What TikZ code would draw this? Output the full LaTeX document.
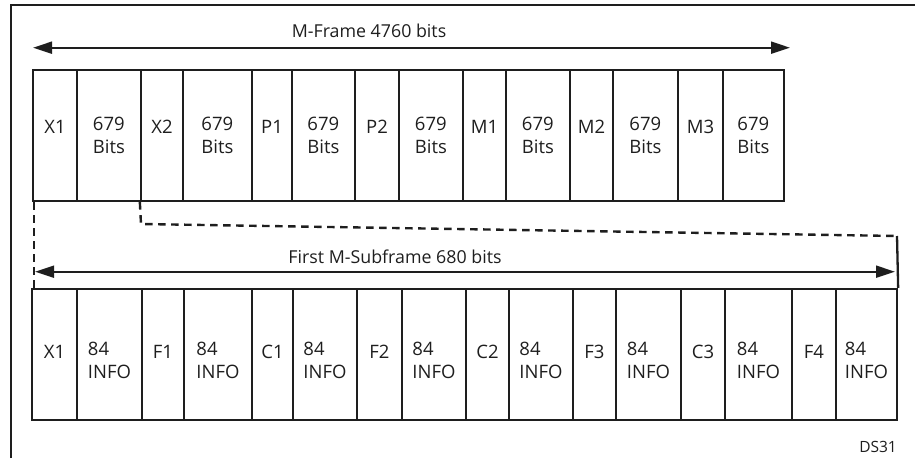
\documentclass[tikz,border=0pt]{standalone}
\usepackage{fontspec}
\setmainfont{Open Sans}
\usetikzlibrary{arrows.meta}
\definecolor{ink}{HTML}{1E1E1E}
\begin{document}
\begin{tikzpicture}[x=1pt,y=-1pt,
  cell/.style={draw=ink, line width=2.3pt, inner sep=0pt, minimum height=131pt},
  lab/.style={anchor=north, align=left, inner sep=0pt, text=ink,
    font=\fontsize{18.5}{22.5}\selectfont, execute at begin node=\strut},
  title/.style={anchor=base, inner sep=0pt, text=ink, font=\fontsize{17.8}{21}\selectfont},
  arr/.style={draw=ink, line width=2pt, {Triangle[length=19pt,width=12pt]}-{Triangle[length=19pt,width=12pt]}},
  dashline/.style={draw=ink, line width=2.4pt, dash pattern=on 7.5pt off 5.5pt},
  framestyle/.style={draw=ink, line width=2.6pt}
]
\useasboundingbox (0,0) rectangle (915,458);
% outer frame (only left and top edges visible)
\coordinate (f1) at (11,458);
\coordinate (f2) at (11,5);
\coordinate (f3) at (915,5);
\draw[framestyle] (f1) -- (f2) -- (f3);

% top row
\foreach \a/\b/\t [count=\i] in {33/77/X1, 77/141/679\\Bits, 141/183/X2, 183/252/679\\Bits,
  252/292/P1, 292/355/679\\Bits, 355/399/P2, 399/463/679\\Bits, 463/506/M1, 506/570/679\\Bits,
  570/613/M2, 613/678/679\\Bits, 678/723/M3, 723/784/679\\Bits} {
  \node[cell, minimum width={(\b-\a)*1pt}] (t\i) at ({(\a+\b)/2},135.5) {};
  \node[lab] (tl\i) at ({(\a+\b)/2},117.4) {\t};
}

% bottom row
\foreach \a/\b/\t [count=\i] in {32/77/X1, 77/142/84\\INFO, 142/184/F1, 184/252/84\\INFO,
  252/293/C1, 293/357/84\\INFO, 357/402/F2, 402/466/84\\INFO, 466/509/C2, 509/573/84\\INFO,
  573/616/F3, 616/681/84\\INFO, 681/725/C3, 725/792/84\\INFO, 792/836/F4, 836/897/84\\INFO} {
  \node[cell, minimum width={(\b-\a)*1pt}] (b\i) at ({(\a+\b)/2},354.5) {};
  \node[lab] (bl\i) at ({(\a+\b)/2},342.1) {\t};
}

% top arrow and label
\coordinate (a1) at (33,47.7);
\coordinate (a2) at (790,47.7);
\draw[arr] (a1) -- (a2);
\node[title] (mframe) at (369,37.3) {M-Frame 4760 bits};

% dashed expansion lines
\coordinate (d1) at ([xshift=2pt]t1.south west);
\coordinate (d2) at (d1 |- b1.north);
\draw[dashline] (d1) -- (d2);
\coordinate (c1) at (141,224);
\coordinate (c2) at (897,236);
\draw[dashline] (t3.south west) -- (c1) -- (c2);
\draw[draw=ink, line width=2.3pt] (c2) -- (b16.north east);

% bottom arrow and label
\coordinate (a3) at (35,271.7);
\coordinate (a4) at (895,271.7);
\draw[arr] (a3) -- (a4);
\node[title] (msub) at (395,263.3) {First M-Subframe 680 bits};

% figure tag
\node[anchor=base east, inner sep=0pt, text=ink, font=\fontsize{15.5}{18}\selectfont] (tag) at (897,452) {DS31};
\end{tikzpicture}
\end{document}
